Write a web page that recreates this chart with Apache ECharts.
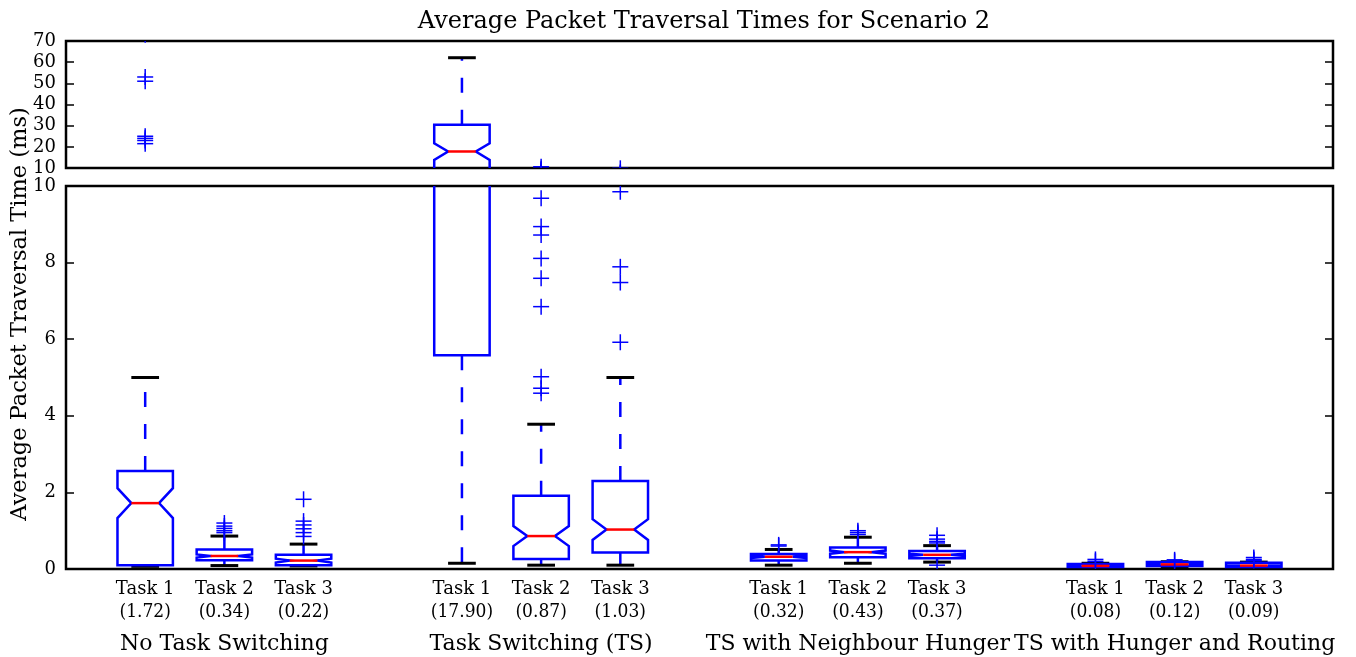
<!DOCTYPE html>
<html>
<head>
<meta charset="utf-8">
<script src="https://cdn.jsdelivr.net/npm/echarts@6/dist/echarts.min.js"></script>
<style>
  html, body { margin: 0; padding: 0; background: #fff; }
  #chart { width: 1356px; height: 657px; }
</style>
</head>
<body>
<div id="chart"></div>
<script>
// box positions on the x axis (gaps at 4, 8, 12 between groups)
var positions = [1, 2, 3, 5, 6, 7, 9, 10, 11, 13, 14, 15];
var taskNames = ['Task 1', 'Task 2', 'Task 3', 'Task 1', 'Task 2', 'Task 3',
                 'Task 1', 'Task 2', 'Task 3', 'Task 1', 'Task 2', 'Task 3'];
var meanLabels = ['1.72', '0.34', '0.22', '17.90', '0.87', '1.03',
                  '0.32', '0.43', '0.37', '0.08', '0.12', '0.09'];
var groupNames = ['No Task Switching', 'Task Switching (TS)', 'TS with Neighbour Hunger', 'TS with Hunger and Routing'];
var groupCenters = [2, 6, 10, 14];

// box statistics (ms)
var whiskerLow  = [0.07, 0.09, 0.08, 0.15, 0.10, 0.10, 0.10, 0.15, 0.18, 0.03, 0.05, 0.04];
var q1          = [0.10, 0.23, 0.10, 5.58, 0.26, 0.43, 0.22, 0.31, 0.28, 0.05, 0.08, 0.05];
var notchLow    = [1.33, 0.30, 0.17, 13.8, 0.60, 0.76, 0.29, 0.40, 0.34, 0.07, 0.11, 0.08];
var medians     = [1.72, 0.34, 0.22, 17.8, 0.86, 1.03, 0.32, 0.44, 0.37, 0.08, 0.12, 0.09];
var notchHigh   = [2.11, 0.38, 0.27, 21.7, 1.12, 1.30, 0.35, 0.48, 0.40, 0.09, 0.13, 0.10];
var q3          = [2.56, 0.51, 0.37, 30.4, 1.91, 2.30, 0.39, 0.56, 0.47, 0.13, 0.18, 0.16];
var whiskerHigh = [5.00, 0.86, 0.65, 62.1, 3.78, 5.00, 0.51, 0.83, 0.61, 0.15, 0.19, 0.18];

// outliers per box
var outliers = [
  [21.5, 23, 24, 25, 51, 53, 73],
  [0.95, 1.0, 1.06, 1.12, 1.2],
  [0.85, 0.95, 1.05, 1.15, 1.25, 1.82],
  [],
  [4.59, 4.72, 5.02, 6.85, 7.59, 8.11, 8.72, 8.94, 9.68, 10.6],
  [5.92, 7.48, 7.89, 9.85],
  [0.6, 0.63],
  [0.9, 0.95, 1.0],
  [0.1, 0.68, 0.72, 0.78, 0.88],
  [0.2, 0.25],
  [0.2, 0.24],
  [0.22, 0.25, 0.3]
];

var FONT = 'DejaVu Serif';
var FONT_C = '"DejaVu Serif Condensed", "DejaVu Serif", serif';
var BLUE = '#0000ff';
var BOX_W = 0.7;

var boxData = positions.map(function (p, i) {
  return [p, whiskerLow[i], q1[i], notchLow[i], medians[i], notchHigh[i], q3[i], whiskerHigh[i]];
});
var flierData = [];
outliers.forEach(function (list, i) {
  list.forEach(function (v) { flierData.push([positions[i], v]); });
});

function renderBox(params, api) {
  var x = api.value(0);
  var w = api.size([BOX_W, 0])[0];
  var c = api.coord([x, 0])[0];
  var L = c - w / 2, R = c + w / 2, Ln = c - w / 4, Rn = c + w / 4;
  function py(v) { return api.coord([x, v])[1]; }
  var yWl = py(api.value(1)), yQ1 = py(api.value(2)), yNl = py(api.value(3));
  var yMed = py(api.value(4)), yNh = py(api.value(5)), yQ3 = py(api.value(6));
  var yWh = py(api.value(7));
  var dash = { stroke: BLUE, lineWidth: 2.5, lineDash: [15, 17] };
  return {
    type: 'group',
    children: [
      { type: 'line', shape: { x1: c, y1: yQ3, x2: c, y2: yWh }, style: dash },
      { type: 'line', shape: { x1: c, y1: yQ1, x2: c, y2: yWl }, style: dash },
      { type: 'line', shape: { x1: Ln, y1: yWh, x2: Rn, y2: yWh }, style: { stroke: '#000', lineWidth: 3 } },
      { type: 'line', shape: { x1: Ln, y1: yWl, x2: Rn, y2: yWl }, style: { stroke: '#000', lineWidth: 3 } },
      {
        type: 'polygon',
        shape: { points: [[L, yQ1], [R, yQ1], [R, yNl], [Rn, yMed], [R, yNh], [R, yQ3],
                          [L, yQ3], [L, yNh], [Ln, yMed], [L, yNl]] },
        style: { fill: 'none', stroke: BLUE, lineWidth: 2.5 }
      },
      { type: 'line', shape: { x1: Ln, y1: yMed, x2: Rn, y2: yMed }, style: { stroke: '#ff0000', lineWidth: 2.5 } }
    ]
  };
}

function renderFlier(params, api) {
  var pt = api.coord([api.value(0), api.value(1)]);
  var a = 8;
  return {
    type: 'group',
    children: [
      { type: 'line', shape: { x1: pt[0] - a, y1: pt[1], x2: pt[0] + a, y2: pt[1] }, style: { stroke: BLUE, lineWidth: 1.5 } },
      { type: 'line', shape: { x1: pt[0], y1: pt[1] - a, x2: pt[0], y2: pt[1] + a }, style: { stroke: BLUE, lineWidth: 1.5 } }
    ]
  };
}

function xLabel(v) {
  var i = positions.indexOf(v);
  if (i < 0) return '';
  var s = '{t|' + taskNames[i] + '}\n{m|(' + meanLabels[i] + ')}';
  var g = groupCenters.indexOf(v);
  if (g >= 0) s += '\n{g|' + groupNames[g] + '}';
  return s;
}

function yAxisDef(grid, min, max, step, pos) {
  return {
    type: 'value', gridIndex: grid, min: min, max: max, interval: step, position: pos,
    axisLine: { show: false },
    axisTick: { show: true, inside: true, length: 8, lineStyle: { color: '#000', width: 1.5 } },
    splitLine: { show: false },
    axisLabel: { show: pos === 'left', color: '#000', fontFamily: FONT, fontSize: 18, margin: 10 }
  };
}

var chart = echarts.init(document.getElementById('chart'));
chart.setOption({
  animation: false,
  title: {
    text: 'Average Packet Traversal Times for Scenario 2',
    left: 699, top: 5, textAlign: 'center',
    textStyle: { fontFamily: FONT, fontSize: 24, fontWeight: 'normal', color: '#000' }
  },
  graphic: [{
    type: 'text', x: 20, y: 314, rotation: Math.PI / 2,
    style: { text: 'Average Packet Traversal Time (ms)', font: '22.5px "DejaVu Serif"', fill: '#000',
             textAlign: 'center', textVerticalAlign: 'middle' }
  }],
  grid: [
    { left: 66, right: 23, top: 41, height: 127, show: true, borderColor: '#000', borderWidth: 2.5, backgroundColor: 'transparent' },
    { left: 66, right: 23, top: 186, height: 383, show: true, borderColor: '#000', borderWidth: 2.5, backgroundColor: 'transparent' }
  ],
  xAxis: [
    { type: 'value', gridIndex: 0, min: 0, max: 16, show: false },
    {
      type: 'value', gridIndex: 1, min: 0, max: 16, interval: 1,
      axisLine: { show: false }, axisTick: { show: false }, splitLine: { show: false },
      axisLabel: {
        formatter: xLabel, margin: 8, color: '#000', fontFamily: FONT,
        showMinLabel: true, showMaxLabel: true,
        rich: {
          t: { fontFamily: FONT, fontSize: 18, lineHeight: 24, color: '#000' },
          m: { fontFamily: FONT_C, fontSize: 19, lineHeight: 22, color: '#000' },
          g: { fontFamily: FONT, fontSize: 22, lineHeight: 42, color: '#000' }
        }
      }
    }
  ],
  yAxis: [
    yAxisDef(0, 10, 70, 10, 'left'),
    yAxisDef(0, 10, 70, 10, 'right'),
    yAxisDef(1, 0, 10, 2, 'left'),
    yAxisDef(1, 0, 10, 2, 'right')
  ],
  series: [
    { type: 'custom', xAxisIndex: 0, yAxisIndex: 0, clip: true, renderItem: renderBox, data: boxData },
    { type: 'custom', xAxisIndex: 0, yAxisIndex: 0, clip: true, renderItem: renderFlier, data: flierData },
    { type: 'custom', xAxisIndex: 1, yAxisIndex: 2, clip: true, renderItem: renderBox, data: boxData },
    { type: 'custom', xAxisIndex: 1, yAxisIndex: 2, clip: true, renderItem: renderFlier, data: flierData }
  ]
});
</script>
</body>
</html>
